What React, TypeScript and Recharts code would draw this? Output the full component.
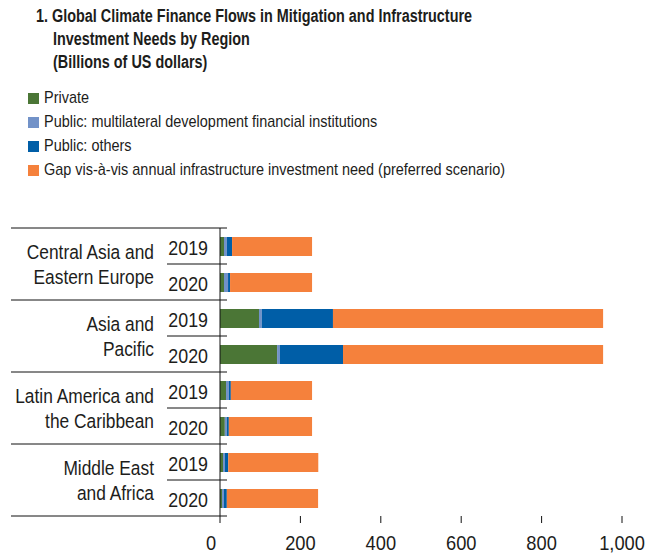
import { BarChart, Bar, XAxis, YAxis } from 'recharts'

const FONT = '"Liberation Sans", Arial, sans-serif'
const INK = '#1d1d1b'

const rowIds = ['caee19', 'caee20', 'ap19', 'ap20', 'lac19', 'lac20', 'mea19', 'mea20']
const years = ['2019', '2020', '2019', '2020', '2019', '2020', '2019', '2020']
const regions = [
  ['Central Asia and', 'Eastern Europe'],
  ['Asia and', 'Pacific'],
  ['Latin America and', 'the Caribbean'],
  ['Middle East', 'and Africa'],
]

const privateFlows = [10, 10, 97, 142, 15, 12, 7.5, 5]
const mdbFlows = [7, 10, 7, 7, 7, 5, 5, 5]
const otherPublic = [13, 5, 177, 157, 5, 5, 8, 7]
const gapToNeed = [199, 204, 672, 647, 202, 207, 224, 227]

const xTicks = [0, 200, 400, 600, 800, 1000]

const titleLines = [
  '1. Global Climate Finance Flows in Mitigation and Infrastructure',
  'Investment Needs by Region',
  '(Billions of US dollars)',
]

const series = [
  { key: 'private', name: 'Private', color: '#4b7636' },
  { key: 'mdb', name: 'Public: multilateral development financial institutions', color: '#7292c8' },
  { key: 'others', name: 'Public: others', color: '#005ea7' },
  { key: 'gap', name: 'Gap vis-à-vis annual infrastructure investment need (preferred scenario)', color: '#f5813c' },
]

const data = rowIds.map((id, i) => ({
  id,
  private: privateFlows[i],
  mdb: mdbFlows[i],
  others: otherPublic[i],
  gap: gapToNeed[i],
}))

const HALF_ROW = 18

// condensed look: squeeze Liberation Sans horizontally around the anchor point
function Squeezed({ x, y, sx, size, anchor, children }: any) {
  return (
    <text
      transform={`translate(${x},${y}) scale(${sx},1)`}
      textAnchor={anchor}
      dominantBaseline="central"
      fontSize={size}
      fontFamily={FONT}
      fill={INK}
    >
      {children}
    </text>
  )
}

function RowTick(props: any) {
  const { x, y, payload } = props
  const i = payload.index
  const first = i % 2 === 0
  const region = regions[Math.floor(i / 2)]
  return (
    <g>
      <Squeezed x={x - 12} y={y + 1} sx={0.85} size={21} anchor="end">
        {years[i]}
      </Squeezed>
      {first && (
        <>
          <line x1={x - 209} x2={x + 7} y1={y - HALF_ROW} y2={y - HALF_ROW} stroke="#111" />
          <line x1={x - 53} x2={x + 7} y1={y + HALF_ROW} y2={y + HALF_ROW} stroke="#111" />
          <Squeezed x={x - 66} y={y + HALF_ROW - 12} sx={0.89} size={19.5} anchor="end">
            {region[0]}
          </Squeezed>
          <Squeezed x={x - 66} y={y + HALF_ROW + 13} sx={0.89} size={19.5} anchor="end">
            {region[1]}
          </Squeezed>
        </>
      )}
      {i === rowIds.length - 1 && (
        <line x1={x - 209} x2={x + 7} y1={y + HALF_ROW} y2={y + HALF_ROW} stroke="#111" />
      )}
    </g>
  )
}

function ValueTick(props: any) {
  const { x, y, payload } = props
  return (
    <Squeezed x={payload.value === 0 ? x - 9 : x} y={y + 8} sx={0.87} size={21} anchor="middle">
      {payload.value.toLocaleString('en-US')}
    </Squeezed>
  )
}

export default function App() {
  return (
    <div style={{ position: 'absolute', left: 0, top: 0, width: 645, height: 556, background: '#fff', fontFamily: FONT, color: INK, overflow: 'hidden' }}>
      {titleLines.map((t, i) => (
        <div
          key={t}
          style={{
            position: 'absolute',
            left: i === 0 ? 36 : 53,
            top: 5 + i * 23,
            fontWeight: 700,
            fontSize: 18,
            lineHeight: '23px',
            whiteSpace: 'nowrap',
            transform: 'scaleX(0.8)',
            transformOrigin: 'left center',
          }}
        >
          {t}
        </div>
      ))}
      {series.map((s, i) => (
        <div key={s.key} style={{ position: 'absolute', left: 28, top: 86 + i * 24, height: 24, display: 'flex', alignItems: 'center' }}>
          <span style={{ width: 11, height: 11, background: s.color, display: 'inline-block' }} />
          <span
            style={{
              marginLeft: 5,
              fontSize: 17,
              whiteSpace: 'nowrap',
              transform: 'scaleX(0.85)',
              transformOrigin: 'left center',
            }}
          >
            {s.name}
          </span>
        </div>
      ))}
      <BarChart
        width={645}
        height={556}
        data={data}
        layout="vertical"
        margin={{ top: 228, right: 23, bottom: 0, left: 0 }}
        barSize={19}
        style={{ position: 'absolute', left: 0, top: 0 }}
      >
        <XAxis
          xAxisId="top"
          orientation="top"
          type="number"
          domain={[0, 1000]}
          ticks={xTicks}
          height={0}
          tickSize={6}
          axisLine={false}
          tickLine={{ stroke: '#111' }}
          tick={() => <g />}
        />
        <XAxis
          type="number"
          domain={[0, 1000]}
          ticks={xTicks}
          height={40}
          tickSize={7}
          tickMargin={12}
          axisLine={false}
          tickLine={{ stroke: '#111' }}
          tick={<ValueTick />}
        />
        <YAxis
          type="category"
          dataKey="id"
          width={220}
          tickSize={0}
          tickMargin={0}
          tickLine={false}
          axisLine={{ stroke: '#111' }}
          tick={<RowTick />}
          interval={0}
        />
        {series.map((s) => (
          <Bar key={s.key} dataKey={s.key} name={s.name} stackId="a" fill={s.color} isAnimationActive={false} />
        ))}
      </BarChart>
    </div>
  )
}
